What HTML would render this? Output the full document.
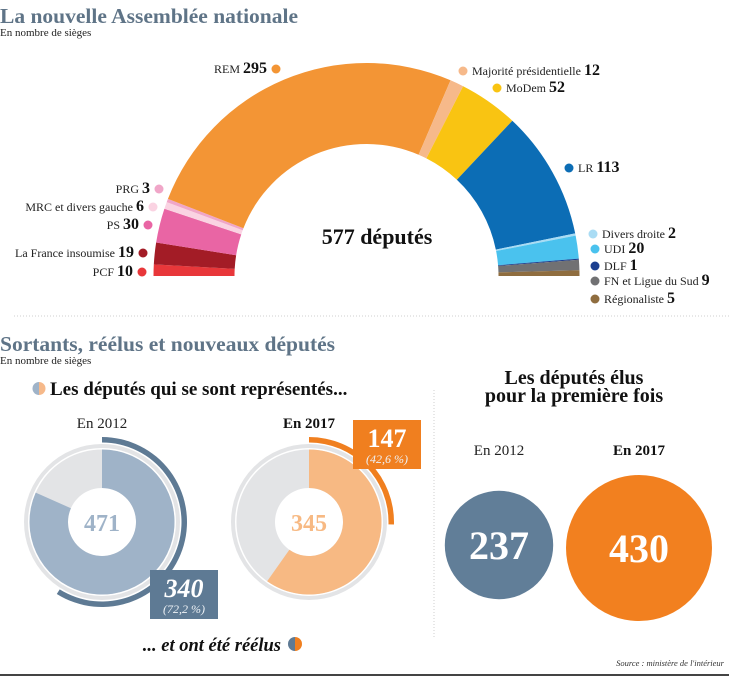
<!DOCTYPE html>
<html><head><meta charset="utf-8">
<style>
html,body{margin:0;padding:0;background:#fff;}
body{width:729px;height:676px;overflow:hidden;position:relative;font-family:"Liberation Serif",serif;}
svg{position:absolute;left:0;top:0;}
text{font-family:"Liberation Serif",serif;}
</style></head>
<body>
<svg id="chart" width="729" height="676" viewBox="0 0 729 676">
  <text x="0" y="23" font-size="21.5" font-weight="bold" fill="#5f7487">La nouvelle Assemblée nationale</text>
  <text x="0" y="36" font-size="11" fill="#222">En nombre de sièges</text>
  <g id="hemi"></g>
  <g id="hemiLabels"></g>
  <text x="377" y="244" font-size="22" font-weight="bold" text-anchor="middle" fill="#111">577 députés</text>

  <line x1="14" y1="316" x2="729" y2="316" stroke="#cfcfcf" stroke-dasharray="1,2"/>
  <text x="0" y="351" font-size="21.5" font-weight="bold" fill="#5f7487">Sortants, réélus et nouveaux députés</text>
  <text x="0" y="364" font-size="11" fill="#222">En nombre de sièges</text>

  <g>
    <path d="M39 382 A6.5 6.5 0 0 0 39 395 Z" fill="#9fb3c8"/>
    <path d="M39 382 A6.5 6.5 0 0 1 39 395 Z" fill="#f6b98a"/>
  </g>
  <text x="50" y="395" font-size="19" font-weight="bold" fill="#111">Les députés qui se sont représentés...</text>
  <text x="102" y="428" font-size="15" text-anchor="middle" fill="#222">En 2012</text>
  <text x="309" y="428" font-size="15" font-weight="bold" text-anchor="middle" fill="#111">En 2017</text>
  <g id="donuts"></g>

  <text x="281" y="651" font-size="18.5" font-weight="bold" font-style="italic" text-anchor="end" fill="#111">... et ont été réélus</text>
  <g>
    <path d="M295 637 A7 7 0 0 0 295 651 Z" fill="#5e7a94"/>
    <path d="M295 637 A7 7 0 0 1 295 651 Z" fill="#f07f1f"/>
  </g>

  <line x1="434" y1="390" x2="434" y2="638" stroke="#cfcfcf" stroke-dasharray="1,2"/>
  <text x="574" y="384" font-size="20" font-weight="bold" text-anchor="middle" fill="#111">Les députés élus</text>
  <text x="574" y="402" font-size="20" font-weight="bold" text-anchor="middle" fill="#111">pour la première fois</text>
  <text x="499" y="455" font-size="15" text-anchor="middle" fill="#222">En 2012</text>
  <text x="639" y="455" font-size="15" font-weight="bold" text-anchor="middle" fill="#111">En 2017</text>
  <g id="bubbles"></g>

  <text x="724" y="666" font-size="8.5" font-style="italic" text-anchor="end" fill="#333">Source : ministère de l'intérieur</text>
  <rect x="0" y="674" width="729" height="2" fill="#444"/>
</svg>
<script>
const parties = ["PCF","La France insoumise","PS","MRC et divers gauche","PRG","REM","Majorité présidentielle","MoDem","LR","Divers droite","UDI","DLF","FN et Ligue du Sud","Régionaliste"];
const seats = [10,19,30,6,3,295,12,52,113,2,20,1,9,5];
const partyColors = ["#e8373a","#a31c26","#e965a4","#fad3e2","#f0a6c8","#f39535","#f6b98a","#f9c412","#0c6db5","#a9dcf4","#4ac2ee","#1c3f8f","#717173","#8f6d3f"];
const totalSeats = 577;
const reran = [471,345];
const reelected = [340,147];
const reelectedPct = ["(72,2 %)","(42,6 %)"];
const newcomers = [237,430];

const NS="http://www.w3.org/2000/svg";
function mk(tag,attrs,parent){const e=document.createElementNS(NS,tag);for(const k in attrs)e.setAttribute(k,attrs[k]);parent.appendChild(e);return e;}

const cx=366.5, cy=276, R=213, r=132;
const hemi=document.getElementById('hemi');
function ang(v){return Math.PI - Math.PI*v/totalSeats;}
function pt(rad,a){return [cx+rad*Math.cos(a), cy-rad*Math.sin(a)];}
let cum=0;
seats.forEach((s,i)=>{
  const a0=ang(cum), a1=ang(cum+s); cum+=s;
  const p0=pt(R,a0),p1=pt(R,a1),q1=pt(r,a1),q0=pt(r,a0);
  const large=(a0-a1)>Math.PI?1:0;
  const p=mk('path',{d:`M${p0[0]} ${p0[1]} A${R} ${R} 0 ${large} 1 ${p1[0]} ${p1[1]} L${q1[0]} ${q1[1]} A${r} ${r} 0 ${large} 0 ${q0[0]} ${q0[1]} Z`,fill:partyColors[i]},hemi);
  
  
});

const labelLayout=[[142,272,'L'],[143,253,'L'],[148,225,'L'],[153,207,'L'],[159,189,'L'],[276,69,'L'],[463,71,'R'],[497,88,'R'],[569,168,'R'],[593,234,'R'],[595,249,'R'],[595,266,'R'],[595,281,'R'],[595,299,'R']];
const lg=document.getElementById('hemiLabels');
parties.forEach((n,i)=>{
  const [dx,dy,side]=labelLayout[i];
  const c=mk('circle',{cx:dx,cy:dy,r:4.5,fill:partyColors[i]},lg);
  
  
  const t=mk('text',{x:side==='L'?dx-9:dx+9,y:dy+4,'text-anchor':side==='L'?'end':'start','font-size':12,fill:'#222'},lg);
  
  
  const s1=mk('tspan',{},t); s1.textContent=n+' ';
  const s2=mk('tspan',{'font-size':16,'font-weight':'bold',fill:'#111'},t); s2.textContent=seats[i];
});

const dg=document.getElementById('donuts');
const donutCx=[102,309], dcy=522;
const fillCol=["#9fb3c8","#f7b983"], arcCol=["#5e7a94","#f07f1f"], textCol=["#9fb3c8","#f7b983"];
function arcPath(x,y,ro,ri,f0,f1){
  const a0=f0*2*Math.PI, a1=f1*2*Math.PI;
  const P=(rad,a)=>[x+rad*Math.sin(a), y-rad*Math.cos(a)];
  const large=(a1-a0)>Math.PI?1:0;
  const o0=P(ro,a0),o1=P(ro,a1),i1=P(ri,a1),i0=P(ri,a0);
  return `M${o0[0]} ${o0[1]} A${ro} ${ro} 0 ${large} 1 ${o1[0]} ${o1[1]} L${i1[0]} ${i1[1]} A${ri} ${ri} 0 ${large} 0 ${i0[0]} ${i0[1]} Z`;
}
const boxLayout=[[150,570],[353,420]];
reran.forEach((v,i)=>{
  const x=donutCx[i];
  const ring=mk('circle',{cx:x,cy:dcy,r:76,fill:'none',stroke:'#e3e4e6','stroke-width':4},dg);
   
  const bg=mk('path',{d:arcPath(x,dcy,72.5,34,0,0.99999),fill:'#e3e4e6'},dg);
   
  const f=mk('path',{d:arcPath(x,dcy,72.5,34,0,v/totalSeats),fill:fillCol[i]},dg);
   
  const a=mk('path',{d:arcPath(x,dcy,85,79.5,0,reelected[i]/totalSeats),fill:arcCol[i]},dg);
   
  const t=mk('text',{x:x,y:dcy+9,'text-anchor':'middle','font-size':24,'font-weight':'bold',fill:textCol[i]},dg);
  t.textContent=v;
   
  const [bx,by]=boxLayout[i];
  const b=mk('rect',{x:bx,y:by,width:68,height:49,fill:arcCol[i]},dg);
   
  const bt=mk('text',{x:bx+34,y:by+27,'text-anchor':'middle','font-size':26,'font-weight':'bold','font-style':i===0?'italic':'normal',fill:'#fff'},dg);
  bt.textContent=reelected[i];
   
  const bp=mk('text',{x:bx+34,y:by+43,'text-anchor':'middle','font-size':12,'font-style':'italic',fill:'#eef2f6'},dg);
  bp.textContent=reelectedPct[i];
   
});

const bg2=document.getElementById('bubbles');
const bubbleCx=[499,639], bubbleCy=[545,548], bubbleCol=["#617e98","#f2801f"];
const maxR=73;
newcomers.forEach((v,i)=>{
  const rr=maxR*Math.sqrt(v/Math.max(...newcomers));
  const c=mk('circle',{cx:bubbleCx[i],cy:bubbleCy[i],r:rr,fill:bubbleCol[i]},bg2);
   
  const t=mk('text',{x:bubbleCx[i],y:bubbleCy[i]+14,'text-anchor':'middle','font-size':40,'font-weight':'bold',fill:'#fff'},bg2);
  t.textContent=v;
   
});
</script>
</body></html>
